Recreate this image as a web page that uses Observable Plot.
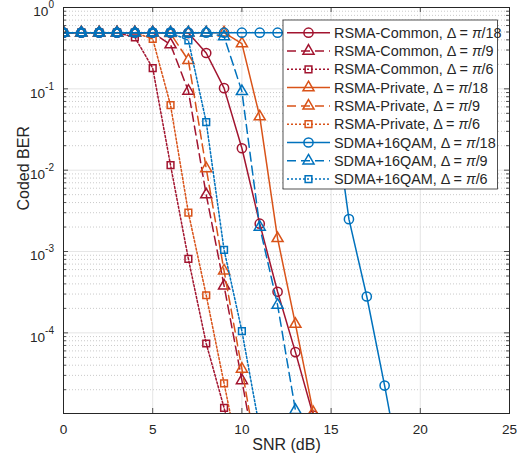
<!DOCTYPE html>
<html><head><meta charset="utf-8">
<script src="https://cdn.jsdelivr.net/npm/d3@7"></script>
<script src="https://cdn.jsdelivr.net/npm/@observablehq/plot@0.6"></script>
<style>
body{margin:0;background:#fff;}
svg{font-family:"Liberation Sans",Arial,Helvetica,sans-serif;}
</style>
</head><body><div id="chart"></div>
<script>
// ---- data ----
const snr = [0,1,2,3,4,5,6,7,8,9,10,11,12,13,14,15,16,17,18,19];
const berCommon18  = [0.49,0.49,0.49,0.49,0.49,0.49,0.49,0.485,0.276,0.102,0.0186,2.2e-3,3.2e-4,5.8e-5,9.6e-6];
const berCommon9   = [0.49,0.49,0.49,0.49,0.49,0.49,0.35,0.094,5.0e-3,3.8e-4,2.6e-5,1.6e-6];
const berCommon6   = [0.49,0.49,0.49,0.49,0.43,0.18,0.0115,8.1e-4,7.4e-5,1.2e-5,1.5e-6];
const berPrivate18 = [0.49,0.49,0.49,0.49,0.49,0.49,0.49,0.49,0.49,0.49,0.36,0.0455,1.45e-3,1.28e-4,1.05e-5,8e-7];
const berPrivate9  = [0.49,0.49,0.49,0.49,0.49,0.49,0.48,0.224,0.0105,5.8e-4,3.6e-5,2e-6];
const berPrivate6  = [0.49,0.49,0.49,0.49,0.49,0.41,0.063,3.0e-3,2.9e-4,2.4e-5,2e-6];
const berSdma18    = [0.49,0.49,0.49,0.49,0.49,0.49,0.49,0.49,0.49,0.49,0.49,0.49,0.49,0.49,0.45,0.1,2.5e-3,2.8e-4,2.25e-5,1.5e-6];
const berSdma9     = [0.49,0.49,0.49,0.49,0.49,0.49,0.49,0.49,0.49,0.44,0.093,2.0e-3,2.2e-4,1.12e-5,6e-7];
const berSdma6     = [0.49,0.49,0.49,0.49,0.49,0.49,0.49,0.395,0.039,1.05e-3,1.05e-4,6.6e-6];

const schemeNames = ["RSMA-Common","RSMA-Common","RSMA-Common","RSMA-Private","RSMA-Private","RSMA-Private","SDMA+16QAM","SDMA+16QAM","SDMA+16QAM"];
const deltaLabels = ["/18","/9","/6","/18","/9","/6","/18","/9","/6"];
const xTicks = [0,5,10,15,20,25];
const yTicks = [1,0.1,0.01,0.001,0.0001];

// ---- styles ----
const RED="#A2142F", ORANGE="#D95319", BLUE="#0072BD";
const DASH="9,5", DOT="2,2";
const styles = [
  {color:RED, dash:null, symbol:"circle", r:4.6},
  {color:RED, dash:DASH, symbol:"triangle", r:4.1},
  {color:RED, dash:DOT, symbol:"square", r:3.8},
  {color:ORANGE, dash:null, symbol:"triangle", r:4.1},
  {color:ORANGE, dash:DASH, symbol:"triangle", r:4.1},
  {color:ORANGE, dash:DOT, symbol:"square", r:3.8},
  {color:BLUE, dash:null, symbol:"circle", r:4.6},
  {color:BLUE, dash:DASH, symbol:"triangle", r:4.1},
  {color:BLUE, dash:DOT, symbol:"square", r:3.8}
];
const seriesValues = [berCommon18,berCommon9,berCommon6,berPrivate18,berPrivate9,berPrivate6,berSdma18,berSdma9,berSdma6];

const W=517, H=464, mL=63, mR=8, mT=7, mB=51;
const plotW = W-mL-mR, plotH = H-mT-mB;
const yDomain = [1.02e-5, 1];
const yMinor = [];
for (let d=-5; d<0; d++) for (let k=2; k<=9; k++) { const v=k*Math.pow(10,d); if (v>=yDomain[0]) yMinor.push(v); }

const AX="#262626";
const marks = [
  Plot.ruleY(yMinor, {stroke:"#bdbdbd", strokeDasharray:"1,2", strokeWidth:0.8}),
  Plot.ruleX(xTicks, {stroke:"#dedede", strokeWidth:0.8}),
  Plot.ruleY(yTicks, {stroke:"#dedede", strokeWidth:0.8})
];
seriesValues.forEach((vals, i) => {
  const st = styles[i];
  const rows = vals.map((v, j) => ({x: snr[j], y: v}));
  marks.push(Plot.line(rows, {x:"x", y:"y", stroke:st.color, strokeWidth:1.5, strokeDasharray: st.dash || undefined, clip:true}));
  marks.push(Plot.dot(rows, {x:"x", y:"y", symbol:st.symbol, r:st.r, fill:"none", stroke:st.color, strokeWidth:1.5, clip:true}));
});
marks.push(
  Plot.tickX(xTicks, {stroke:AX, insetTop: plotH-5, strokeWidth:0.8}),
  Plot.tickX(xTicks, {stroke:AX, insetBottom: plotH-5, strokeWidth:0.8}),
  Plot.tickY(yTicks, {stroke:AX, insetRight: plotW-5, strokeWidth:0.8}),
  Plot.tickY(yTicks, {stroke:AX, insetLeft: plotW-5, strokeWidth:0.8}),
  Plot.tickY(yMinor, {stroke:AX, insetRight: plotW-3, strokeWidth:0.8}),
  Plot.tickY(yMinor, {stroke:AX, insetLeft: plotW-3, strokeWidth:0.8}),
  Plot.frame({stroke:AX, strokeWidth:1}),
  Plot.axisX({ticks:xTicks, tickSize:0, tickPadding:11, fontSize:13.6, label:null, tickFormat:d=>String(d)}),
  Plot.axisY({ticks:yTicks, tickSize:0, tickPadding:9.5, fontSize:13.6, dy:4.5, label:null, tickFormat:d=>String(Math.round(Math.log10(d)))}),
  Plot.text(["SNR (dB)"], {frameAnchor:"bottom", dy:36, fontSize:16, fill:AX}),
  Plot.text(["Coded BER"], {frameAnchor:"left", rotate:-90, dx:-40, fontSize:16, fill:AX})
);

const chart = Plot.plot({
  width: W, height: H,
  marginLeft: mL, marginRight: mR, marginTop: mT, marginBottom: mB,
  style: {color: AX, background: "#fff", fontFamily: '"Liberation Sans",Arial,sans-serif'},
  x: {domain:[0,25]},
  y: {type:"log", domain:yDomain},
  marks
});
document.getElementById("chart").appendChild(chart);

// superscript exponents on y tick labels
const svg = d3.select(chart);
svg.selectAll('g[aria-label="y-axis tick label"] text').each(function(){
  const t = d3.select(this);
  const e = t.text();
  t.text(null);
  t.append("tspan").text("10");
  t.append("tspan").attr("dy", -8).attr("font-size", 10).text(e);
});

// legend (MATLAB style box)
const lg = svg.append("g").attr("font-size", 14.4).attr("fill", AX).attr("text-anchor", "start");
const bx0=283, bx1=497.5, by0=20, by1=189;
lg.append("rect").attr("x",bx0).attr("y",by0).attr("width",bx1-bx0).attr("height",by1-by0)
  .attr("fill","#fff").attr("stroke",AX).attr("stroke-width",0.8);
styles.forEach((st, i) => {
  const y = 32.7 + i*18.3;
  lg.append("line").attr("x1",287).attr("x2",330).attr("y1",y).attr("y2",y)
    .attr("stroke",st.color).attr("stroke-width",1.5).attr("stroke-dasharray", st.dash);
  const sym = {circle:d3.symbolCircle, triangle:d3.symbolTriangle, square:d3.symbolSquare}[st.symbol];
  lg.append("path").attr("transform",`translate(308.5,${y})`)
    .attr("d", d3.symbol(sym, Math.PI*st.r*st.r)())
    .attr("fill","none").attr("stroke",st.color).attr("stroke-width",1.5);
  const tx = lg.append("text").attr("x",334).attr("y",y+5).attr("text-anchor","start");
  tx.append("tspan").text(schemeNames[i] + ", \u0394 = ");
  tx.append("tspan").attr("font-style","italic").text("\u03c0");
  tx.append("tspan").text(deltaLabels[i]);
});
</script>
</body></html>
